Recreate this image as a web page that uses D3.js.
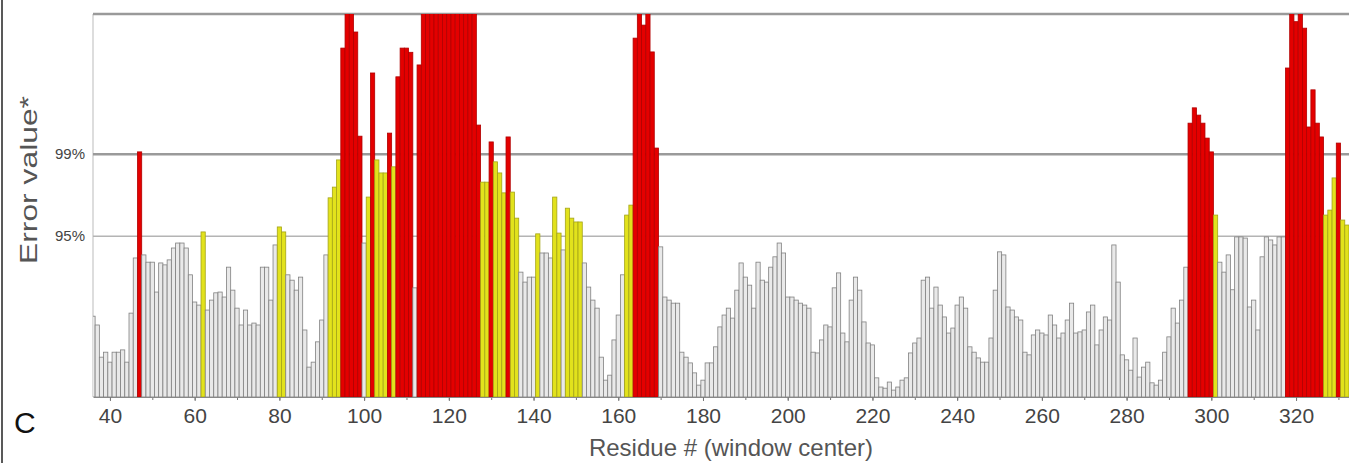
<!DOCTYPE html>
<html>
<head>
<meta charset="utf-8">
<script src="https://cdn.jsdelivr.net/npm/d3@7"></script>
<style>
    body { margin: 0; background: #fff; }
    svg text { font-family: "Liberation Sans", Arial, sans-serif; }
</style>
</head>
<body>
<div id="chart"></div>
<script>
// residue numbers (window center), one bar each
const residues = d3.range(36, 333);

// error value on a 0-100 plot scale (95% line at 42, 99% line at 63.4); >100 runs off the top
const errorScore = [
    21.1, 18.8, 10.4, 11.7, 9.1, 11.7, 11.7, 12.3, 9.1, 21.9,      // 36-45
    36.3, 64.0, 37.1, 35.2, 35.2, 27.4, 35.0, 34.5, 35.8, 38.9,    // 46-55
    40.2, 40.2, 38.9, 31.9, 24.8, 24.0, 43.1, 22.7, 25.3, 27.2,    // 56-65
    27.4, 26.1, 33.9, 27.9, 23.2, 18.8, 22.7, 18.8, 19.3, 18.8,    // 66-75
    33.9, 33.9, 25.3, 39.7, 44.4, 43.1, 31.9, 30.5, 27.9, 31.3,    // 76-85
    17.5, 7.8, 9.1, 14.4, 20.1, 37.1, 52.0, 54.8, 61.9, 91.1,      // 86-95
    110, 110, 95.3, 68.1, 40.2, 52.2, 84.6, 61.9, 58.5, 58.5,      // 96-105
    68.9, 60.1, 83.6, 91.1, 91.1, 90.0, 28.5, 86.7, 110, 110,      // 106-115
    110, 110, 110, 110, 110, 110, 110, 110, 110, 110,              // 116-125
    110, 71.0, 56.1, 56.1, 66.6, 61.4, 58.5, 53.3, 67.9, 53.5,     // 126-135
    46.7, 32.6, 30.0, 31.3, 31.3, 42.6, 37.6, 37.6, 36.3, 52.2,    // 136-145
    42.8, 38.4, 49.3, 46.7, 45.7, 45.7, 35.0, 28.7, 25.3, 23.2,    // 146-155
    10.4, 4.4, 5.7, 14.9, 21.4, 31.9, 47.5, 50.1, 93.7, 110,       // 156-165
    97.1, 110, 90.1, 65.0, 39.2, 26.1, 25.3, 24.5, 24.5, 11.7,     // 166-175
    10.4, 8.9, 6.3, 3.1, 4.4, 8.9, 8.9, 13.1, 18.3, 21.4,          // 176-185
    23.2, 20.6, 27.9, 35.0, 31.3, 29.2, 23.2, 35.2, 30.5, 30.0,    // 186-195
    33.9, 36.6, 40.2, 37.6, 26.1, 26.1, 25.3, 24.5, 24.0, 23.2,    // 196-205
    11.7, 11.5, 14.9, 18.8, 18.3, 28.5, 32.4, 16.7, 14.4, 25.3,    // 206-215
    31.3, 27.9, 19.6, 14.1, 13.6, 5.0, 2.6, 2.3, 3.9, 1.8,         // 216-225
    2.6, 4.4, 5.0, 11.5, 14.1, 15.4, 30.5, 31.3, 23.2, 28.7,       // 226-235
    24.0, 20.9, 16.7, 18.0, 24.0, 26.1, 23.2, 13.1, 11.7, 10.2,    // 236-245
    9.1, 9.1, 15.4, 27.9, 37.9, 37.1, 23.5, 22.7, 20.9, 20.1,      // 246-255
    11.7, 11.0, 16.2, 17.5, 16.7, 16.2, 21.4, 18.8, 15.4, 16.7,    // 256-265
    20.1, 24.5, 16.7, 17.0, 17.5, 22.2, 24.0, 13.6, 17.5, 20.9,    // 266-275
    20.1, 39.7, 30.0, 11.0, 9.7, 7.0, 15.4, 5.2, 7.8, 9.1,         // 276-285
    3.7, 3.1, 4.4, 11.7, 15.7, 23.2, 19.3, 25.3, 33.9, 71.5,       // 286-295
    75.5, 73.6, 71.5, 67.6, 64.0, 47.5, 35.2, 32.6, 37.1, 28.0,    // 296-305
    41.8, 41.8, 41.5, 23.5, 25.3, 17.5, 36.6, 41.8, 41.0, 39.7,    // 306-315
    41.8, 41.8, 85.9, 110, 98.0, 110, 96.3, 70.5, 80.2, 71.5,      // 316-325
    67.9, 47.5, 48.8, 57.2, 66.3, 46.2, 44.9                       // 326-332
];

const thresholdValues = [42, 63.4];
const thresholdLabels = ['95%', '99%'];
const xTickValues = [40, 60, 80, 100, 120, 140, 160, 180, 200, 220, 240, 260, 280, 300, 320];
const xMinorTicks = d3.range(40, 331, 10);

class ErrorPlot {
    constructor(_config) {
        this.config = {
            parentElement: _config.parentElement,
            containerWidth: 1349,
            containerHeight: 463,
            margin: {top: 14, right: 0, bottom: 66, left: 93}
        };
        this.data = residues.map((r, i) => ({residue: r, score: errorScore[i]}));
        this.initVis();
        this.renderVis();
    }

    initVis() {
        let vis = this;
        vis.width = vis.config.containerWidth - vis.config.margin.left - vis.config.margin.right;
        vis.height = vis.config.containerHeight - vis.config.margin.top - vis.config.margin.bottom;

        vis.svg = d3.select(vis.config.parentElement).append('svg')
            .attr('width', vis.config.containerWidth)
            .attr('height', vis.config.containerHeight);

        vis.svg.append('defs').append('clipPath').attr('id', 'plot-clip')
            .append('rect').attr('width', vis.width).attr('height', vis.height);

        vis.chart = vis.svg.append('g')
            .attr('transform', `translate(${vis.config.margin.left},${vis.config.margin.top})`);

        vis.xScale = d3.scaleLinear().domain([36, 332.5]).range([0, vis.width]);
        vis.yScale = d3.scaleLinear().domain([0, 100]).range([vis.height, 0]);

        vis.colorValue = d => d.score >= thresholdValues[1] ? 'red' : (d.score >= 42.2 ? 'yellow' : 'grey');
        vis.fill = {grey: '#e9e9e9', yellow: '#e2e21c', red: '#e40000'};
        vis.stroke = {grey: '#808080', yellow: '#a4a418', red: '#b00000'};

        // panel border on the far left
        vis.svg.append('line').attr('x1', 2).attr('x2', 2).attr('y1', 0).attr('y2', vis.config.containerHeight)
            .attr('stroke', '#222').attr('stroke-width', 1.5);

        // frame + threshold lines behind the bars
        vis.chart.append('line').attr('x1', 0).attr('x2', 0).attr('y1', 0).attr('y2', vis.height)
            .attr('stroke', '#bbb').attr('stroke-width', 1);
        vis.chart.append('line').attr('x1', 0).attr('x2', vis.width).attr('y1', 0).attr('y2', 0)
            .attr('stroke', '#9a9a9a').attr('stroke-width', 2.5);
        vis.chart.selectAll('.threshold').data(thresholdValues).join('line')
            .attr('class', 'threshold')
            .attr('x1', 0).attr('x2', vis.width)
            .attr('y1', d => vis.yScale(d)).attr('y2', d => vis.yScale(d))
            .attr('stroke', (d, i) => i ? '#9a9a9a' : '#b4b4b4')
            .attr('stroke-width', (d, i) => i ? 2.5 : 1.5);

        vis.barG = vis.chart.append('g').attr('clip-path', 'url(#plot-clip)');

        vis.xAxis = d3.axisBottom(vis.xScale).tickValues(xTickValues).tickSize(4).tickPadding(7).tickSizeOuter(0);
        vis.xMinor = d3.axisBottom(vis.xScale).tickValues(xMinorTicks).tickSize(3).tickFormat('').tickSizeOuter(0);
        vis.yAxis = d3.axisLeft(vis.yScale).tickValues(thresholdValues)
            .tickFormat((d, i) => thresholdLabels[i]).tickSize(0).tickPadding(8);

        vis.xMinorG = vis.chart.append('g').attr('transform', `translate(0,${vis.height})`);
        vis.xAxisG = vis.chart.append('g').attr('class', 'axis x-axis').attr('transform', `translate(0,${vis.height})`);
        vis.yAxisG = vis.chart.append('g').attr('class', 'axis y-axis');

        vis.svg.append('text')
            .attr('transform', 'translate(37,180) rotate(-90)')
            .attr('text-anchor', 'middle')
            .attr('font-size', 24).attr('fill', '#555')
            .attr('textLength', 168).attr('lengthAdjust', 'spacingAndGlyphs')
            .text('Error value*');

        vis.svg.append('text')
            .attr('x', 731).attr('y', 456)
            .attr('text-anchor', 'middle')
            .attr('font-size', 24).attr('fill', '#555')
            .text('Residue # (window center)');

        vis.svg.append('text')
            .attr('x', 14).attr('y', 433)
            .attr('font-size', 30).attr('fill', '#111')
            .text('C');
    }

    renderVis() {
        let vis = this;
        const bw = vis.xScale(1) - vis.xScale(0);

        vis.barG.selectAll('.bar')
            .data(vis.data)
            .join('rect')
            .attr('class', 'bar')
            .attr('x', d => vis.xScale(d.residue - 0.5))
            .attr('width', bw)
            .attr('y', d => vis.yScale(d.score))
            .attr('height', d => vis.height - vis.yScale(d.score))
            .attr('fill', d => vis.fill[vis.colorValue(d)])
            .attr('stroke', d => vis.stroke[vis.colorValue(d)])
            .attr('stroke-width', 0.8);

        vis.xMinorG.call(vis.xMinor).call(g => g.select('.domain').remove())
            .call(g => g.selectAll('line').attr('stroke', '#777'));
        vis.xAxisG.call(vis.xAxis)
            .call(g => g.select('.domain').attr('stroke', '#888'))
            .call(g => g.selectAll('line').attr('stroke', '#777'))
            .call(g => g.selectAll('text').attr('font-size', 21).attr('fill', '#444').attr('font-family', null));
        vis.yAxisG.call(vis.yAxis).call(g => g.select('.domain').remove())
            .call(g => g.selectAll('text').attr('font-size', 15).attr('fill', '#444').attr('font-family', null));
    }
}

new ErrorPlot({parentElement: '#chart'});
</script>
</body>
</html>
